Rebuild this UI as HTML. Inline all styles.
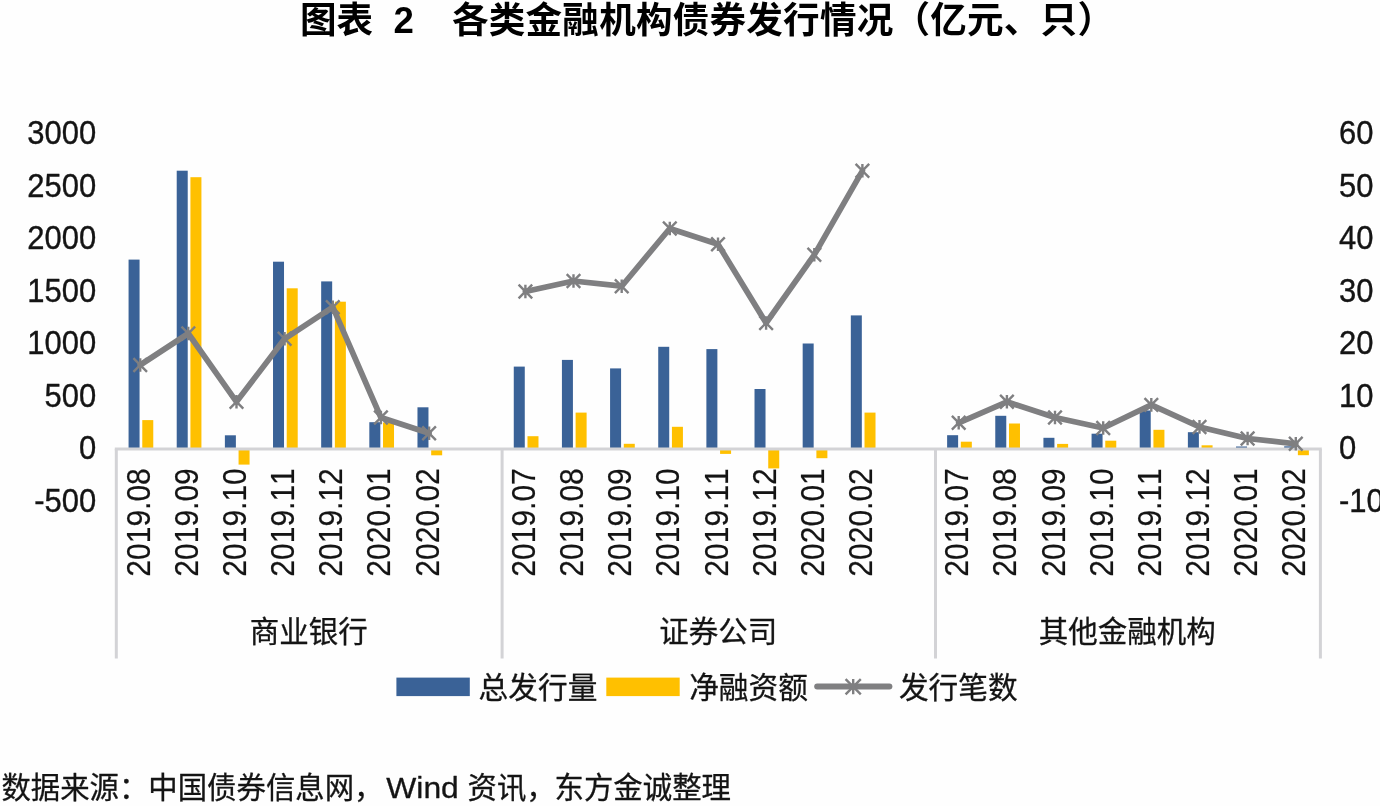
<!DOCTYPE html>
<html lang="zh-CN">
<head>
<meta charset="utf-8">
<title>图表 2 各类金融机构债券发行情况（亿元、只）</title>
<style>
html,body{margin:0;padding:0;background:#fefefe;}
body{width:1380px;height:806px;overflow:hidden;}
svg{display:block;}
text{font-family:"Liberation Sans","Noto Sans CJK SC",sans-serif;fill:#141414;stroke:#141414;stroke-width:0.35px;stroke-linejoin:round;font-kerning:none;}
.cjk text{stroke-width:0.3px;}
.xl text{stroke-width:0.2px;}
text.ttl{font-weight:bold;fill:#000;stroke:none;}
</style>
</head>
<body>
<svg width="1380" height="806" viewBox="0 0 1380 806">
<rect x="0" y="0" width="1380" height="806" fill="#fefefe"/>
<g class="ttl" font-size="36.6">
<text class="ttl" x="300" y="32.5">图表</text>
<text class="ttl" x="393.5" y="32.5">2</text>
<text class="ttl" x="452" y="32.5" textLength="662" lengthAdjust="spacing">各类金融机构债券发行情况（亿元、只）</text>
</g>
<g shape-rendering="geometricPrecision">
<rect x="128.57" y="259.60" width="11.00" height="189.40" fill="#3A6297"/>
<rect x="142.27" y="420.10" width="11.00" height="28.90" fill="#FFC000"/>
<rect x="176.72" y="170.70" width="11.00" height="278.30" fill="#3A6297"/>
<rect x="190.42" y="177.20" width="11.00" height="271.80" fill="#FFC000"/>
<rect x="224.88" y="435.30" width="11.00" height="13.70" fill="#3A6297"/>
<rect x="238.57" y="449.00" width="11.00" height="15.60" fill="#FFC000"/>
<rect x="273.02" y="261.70" width="11.00" height="187.30" fill="#3A6297"/>
<rect x="286.72" y="288.30" width="11.00" height="160.70" fill="#FFC000"/>
<rect x="321.17" y="281.40" width="11.00" height="167.60" fill="#3A6297"/>
<rect x="334.87" y="301.70" width="11.00" height="147.30" fill="#FFC000"/>
<rect x="369.32" y="422.20" width="11.00" height="26.80" fill="#3A6297"/>
<rect x="383.02" y="422.50" width="11.00" height="26.50" fill="#FFC000"/>
<rect x="417.47" y="407.30" width="11.00" height="41.70" fill="#3A6297"/>
<rect x="431.17" y="449.00" width="11.00" height="6.30" fill="#FFC000"/>
<rect x="513.77" y="366.60" width="11.00" height="82.40" fill="#3A6297"/>
<rect x="527.48" y="436.20" width="11.00" height="12.80" fill="#FFC000"/>
<rect x="561.92" y="359.90" width="11.00" height="89.10" fill="#3A6297"/>
<rect x="575.62" y="412.60" width="11.00" height="36.40" fill="#FFC000"/>
<rect x="610.08" y="368.40" width="11.00" height="80.60" fill="#3A6297"/>
<rect x="623.78" y="443.80" width="11.00" height="5.20" fill="#FFC000"/>
<rect x="658.23" y="346.80" width="11.00" height="102.20" fill="#3A6297"/>
<rect x="671.93" y="426.80" width="11.00" height="22.20" fill="#FFC000"/>
<rect x="706.38" y="349.10" width="11.00" height="99.90" fill="#3A6297"/>
<rect x="720.08" y="449.00" width="11.00" height="4.90" fill="#FFC000"/>
<rect x="754.52" y="389.00" width="11.00" height="60.00" fill="#3A6297"/>
<rect x="768.23" y="449.00" width="11.00" height="19.40" fill="#FFC000"/>
<rect x="802.67" y="343.50" width="11.00" height="105.50" fill="#3A6297"/>
<rect x="816.38" y="449.00" width="11.00" height="9.20" fill="#FFC000"/>
<rect x="850.82" y="315.40" width="11.00" height="133.60" fill="#3A6297"/>
<rect x="864.52" y="412.60" width="11.00" height="36.40" fill="#FFC000"/>
<rect x="947.12" y="435.20" width="11.00" height="13.80" fill="#3A6297"/>
<rect x="960.83" y="441.70" width="11.00" height="7.30" fill="#FFC000"/>
<rect x="995.27" y="415.80" width="11.00" height="33.20" fill="#3A6297"/>
<rect x="1008.98" y="423.50" width="11.00" height="25.50" fill="#FFC000"/>
<rect x="1043.42" y="437.80" width="11.00" height="11.20" fill="#3A6297"/>
<rect x="1057.12" y="443.90" width="11.00" height="5.10" fill="#FFC000"/>
<rect x="1091.57" y="433.70" width="11.00" height="15.30" fill="#3A6297"/>
<rect x="1105.27" y="440.70" width="11.00" height="8.30" fill="#FFC000"/>
<rect x="1139.72" y="410.50" width="11.00" height="38.50" fill="#3A6297"/>
<rect x="1153.42" y="429.80" width="11.00" height="19.20" fill="#FFC000"/>
<rect x="1187.88" y="432.20" width="11.00" height="16.80" fill="#3A6297"/>
<rect x="1201.58" y="445.30" width="11.00" height="3.70" fill="#FFC000"/>
<rect x="1236.02" y="446.50" width="11.00" height="2.50" fill="#3A6297"/>
<rect x="1284.17" y="446.30" width="11.00" height="2.70" fill="#3A6297"/>
<rect x="1297.88" y="449.00" width="11.00" height="6.20" fill="#FFC000"/>
</g>
<g stroke="#D3D3D6" fill="none">
<path stroke-width="2.8" d="M114.8 449 H1321.8"/>
<path stroke-width="3" d="M116.3 449 V658.5"/>
<path stroke-width="3" d="M502.1 449 V658.5"/>
<path stroke-width="3" d="M935.5 449 V658.5"/>
<path stroke-width="3" d="M1320.4 449 V658.5"/>
</g>
<polyline fill="none" stroke="#7F7F81" stroke-width="5.7" stroke-linejoin="round" stroke-linecap="round" points="140.2,365.0 188.3,333.5 236.5,401.8 284.6,338.8 332.8,307.2 380.9,417.5 429.1,433.2"/>
<path fill="none" stroke="#7F7F81" stroke-width="2.4" d="M133.4 358.2L147.0 371.8M133.4 371.8L147.0 358.2M140.2 358.2V371.8M181.5 326.7L195.1 340.3M181.5 340.3L195.1 326.7M188.3 326.7V340.3M229.7 394.9L243.3 408.6M229.7 408.6L243.3 394.9M236.5 394.9V408.6M277.8 331.9L291.4 345.6M277.8 345.6L291.4 331.9M284.6 331.9V345.6M326.0 300.4L339.6 314.1M326.0 314.1L339.6 300.4M332.8 300.4V314.1M374.1 410.7L387.7 424.3M374.1 424.3L387.7 410.7M380.9 410.7V424.3M422.3 426.4L435.9 440.1M422.3 440.1L435.9 426.4M429.1 426.4V440.1"/>
<polyline fill="none" stroke="#7F7F81" stroke-width="5.7" stroke-linejoin="round" stroke-linecap="round" points="525.4,291.5 573.5,281.0 621.7,286.2 669.8,228.5 718.0,244.2 766.1,323.0 814.3,254.8 862.4,170.8"/>
<path fill="none" stroke="#7F7F81" stroke-width="2.4" d="M518.6 284.7L532.2 298.3M518.6 298.3L532.2 284.7M525.4 284.7V298.3M566.7 274.2L580.3 287.8M566.7 287.8L580.3 274.2M573.5 274.2V287.8M614.9 279.4L628.5 293.1M614.9 293.1L628.5 279.4M621.7 279.4V293.1M663.0 221.7L676.6 235.3M663.0 235.3L676.6 221.7M669.8 221.7V235.3M711.2 237.4L724.8 251.1M711.2 251.1L724.8 237.4M718.0 237.4V251.1M759.3 316.2L772.9 329.8M759.3 329.8L772.9 316.2M766.1 316.2V329.8M807.5 247.9L821.1 261.6M807.5 261.6L821.1 247.9M814.3 247.9V261.6M855.6 163.9L869.2 177.6M855.6 177.6L869.2 163.9M862.4 163.9V177.6"/>
<polyline fill="none" stroke="#7F7F81" stroke-width="5.7" stroke-linejoin="round" stroke-linecap="round" points="958.7,422.8 1006.9,401.8 1055.0,417.5 1103.2,428.0 1151.3,404.9 1199.5,426.9 1247.6,438.5 1295.8,443.8"/>
<path fill="none" stroke="#7F7F81" stroke-width="2.4" d="M951.9 415.9L965.5 429.6M951.9 429.6L965.5 415.9M958.7 415.9V429.6M1000.1 394.9L1013.7 408.6M1000.1 408.6L1013.7 394.9M1006.9 394.9V408.6M1048.2 410.7L1061.8 424.3M1048.2 424.3L1061.8 410.7M1055.0 410.7V424.3M1096.4 421.2L1110.0 434.8M1096.4 434.8L1110.0 421.2M1103.2 421.2V434.8M1144.5 398.1L1158.1 411.7M1144.5 411.7L1158.1 398.1M1151.3 398.1V411.7M1192.7 420.1L1206.3 433.8M1192.7 433.8L1206.3 420.1M1199.5 420.1V433.8M1240.8 431.7L1254.4 445.3M1240.8 445.3L1254.4 431.7M1247.6 431.7V445.3M1289.0 436.9L1302.6 450.6M1289.0 450.6L1302.6 436.9M1295.8 436.9V450.6"/>
<g font-size="31" text-anchor="end">
<text transform="translate(96.2 144.0) scale(1 1.08)">3000</text>
<text transform="translate(96.2 196.5) scale(1 1.08)">2500</text>
<text transform="translate(96.2 249.0) scale(1 1.08)">2000</text>
<text transform="translate(96.2 301.5) scale(1 1.08)">1500</text>
<text transform="translate(96.2 354.0) scale(1 1.08)">1000</text>
<text transform="translate(96.2 406.5) scale(1 1.08)">500</text>
<text transform="translate(96.2 459.0) scale(1 1.08)">0</text>
<text transform="translate(96.2 511.5) scale(1 1.08)">-500</text>
</g>
<g font-size="31">
<text transform="translate(1339 144.0) scale(1 1.08)">60</text>
<text transform="translate(1339 196.5) scale(1 1.08)">50</text>
<text transform="translate(1339 249.0) scale(1 1.08)">40</text>
<text transform="translate(1339 301.5) scale(1 1.08)">30</text>
<text transform="translate(1339 354.0) scale(1 1.08)">20</text>
<text transform="translate(1339 406.5) scale(1 1.08)">10</text>
<text transform="translate(1339 459.0) scale(1 1.08)">0</text>
<text transform="translate(1339 511.5) scale(1 1.08)">-10</text>
</g>
<g class="xl" font-size="32.8" text-anchor="end">
<text transform="translate(149.7 468.2) rotate(-90) scale(0.915 1)">2019.08</text>
<text transform="translate(197.8 468.2) rotate(-90) scale(0.915 1)">2019.09</text>
<text transform="translate(246.0 468.2) rotate(-90) scale(0.915 1)">2019.10</text>
<text transform="translate(294.1 468.2) rotate(-90) scale(0.915 1)">2019.11</text>
<text transform="translate(342.3 468.2) rotate(-90) scale(0.915 1)">2019.12</text>
<text transform="translate(390.4 468.2) rotate(-90) scale(0.915 1)">2020.01</text>
<text transform="translate(438.6 468.2) rotate(-90) scale(0.915 1)">2020.02</text>
<text transform="translate(534.9 468.2) rotate(-90) scale(0.915 1)">2019.07</text>
<text transform="translate(583.0 468.2) rotate(-90) scale(0.915 1)">2019.08</text>
<text transform="translate(631.2 468.2) rotate(-90) scale(0.915 1)">2019.09</text>
<text transform="translate(679.3 468.2) rotate(-90) scale(0.915 1)">2019.10</text>
<text transform="translate(727.5 468.2) rotate(-90) scale(0.915 1)">2019.11</text>
<text transform="translate(775.6 468.2) rotate(-90) scale(0.915 1)">2019.12</text>
<text transform="translate(823.8 468.2) rotate(-90) scale(0.915 1)">2020.01</text>
<text transform="translate(871.9 468.2) rotate(-90) scale(0.915 1)">2020.02</text>
<text transform="translate(968.2 468.2) rotate(-90) scale(0.915 1)">2019.07</text>
<text transform="translate(1016.4 468.2) rotate(-90) scale(0.915 1)">2019.08</text>
<text transform="translate(1064.5 468.2) rotate(-90) scale(0.915 1)">2019.09</text>
<text transform="translate(1112.7 468.2) rotate(-90) scale(0.915 1)">2019.10</text>
<text transform="translate(1160.8 468.2) rotate(-90) scale(0.915 1)">2019.11</text>
<text transform="translate(1209.0 468.2) rotate(-90) scale(0.915 1)">2019.12</text>
<text transform="translate(1257.1 468.2) rotate(-90) scale(0.915 1)">2020.01</text>
<text transform="translate(1305.3 468.2) rotate(-90) scale(0.915 1)">2020.02</text>
</g>
<g class="cjk" font-size="29.5" text-anchor="middle">
<text x="308.8" y="641.5">商业银行</text>
<text x="718.3" y="641.5">证券公司</text>
<text x="1127.3" y="641.5">其他金融机构</text>
</g>
<rect x="396.4" y="677.6" width="73.4" height="18.5" fill="#3A6297"/>
<rect x="606.3" y="677.6" width="73.4" height="18.5" fill="#FFC000"/>
<path d="M817.2 686.6H889.4" stroke="#7F7F81" stroke-width="6" stroke-linecap="round" fill="none"/>
<path fill="none" stroke="#7F7F81" stroke-width="2.4" d="M845.6 679.1L860.8 694.3M845.6 694.3L860.8 679.1M853.2 679.1V694.3"/>
<g class="cjk" font-size="29.7">
<text x="478.6" y="697.5">总发行量</text>
<text x="689.2" y="697.5">净融资额</text>
<text x="898.9" y="697.5">发行笔数</text>
</g>
<g class="cjk" font-size="29.4">
<text x="1.4" y="797.5">数据来源：中国债券信息网，</text>
<text x="386.3" y="797.5" textLength="72.5" lengthAdjust="spacingAndGlyphs">Wind</text>
<text x="467.6" y="797.5">资讯，</text>
<text x="554.6" y="797.5">东方金诚整理</text>
</g>
</svg>
</body>
</html>
